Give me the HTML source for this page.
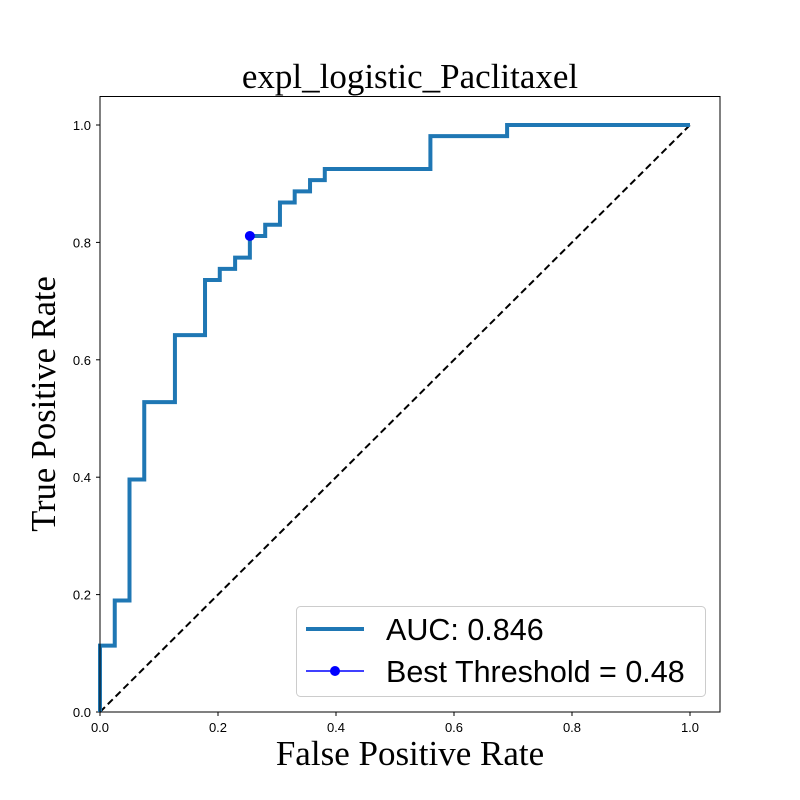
<!DOCTYPE html>
<html><head><meta charset="utf-8"><style>body{margin:0;background:#fff}svg{display:block}</style></head>
<body>
<svg id="chart" width="800" height="800" viewBox="0 0 800 800" xmlns="http://www.w3.org/2000/svg">
<rect width="800" height="800" fill="#fff"/>
<text x="410" y="88" text-anchor="middle" font-family="Liberation Serif, serif" font-size="35">expl_logistic_Paclitaxel</text>
<g id="plot"></g>
<rect x="100" y="96.5" width="620" height="615.5" fill="none" stroke="#000" stroke-width="1"/>
<text x="410" y="765" text-anchor="middle" font-family="Liberation Serif, serif" font-size="35">False Positive Rate</text>
<text transform="translate(55,404) rotate(-90)" text-anchor="middle" font-family="Liberation Serif, serif" font-size="34.5">True Positive Rate</text>
<g>
<rect x="296.5" y="606.5" width="409" height="90" rx="4" fill="#fff" stroke="#ccc"/>
<line x1="306" y1="629" x2="364" y2="629" stroke="#1f77b4" stroke-width="4"/>
<text x="386" y="640" font-family="Liberation Sans, sans-serif" font-size="30.5">AUC: 0.846</text>
<line x1="306" y1="671" x2="364" y2="671" stroke="#0000ff" stroke-width="1.5"/>
<circle cx="335" cy="671" r="5" fill="#0000ff"/>
<text x="386" y="682" font-family="Liberation Sans, sans-serif" font-size="30.5">Best Threshold = 0.48</text>
</g>
</svg>
<script>
const fpr = [0,0,0.025,0.025,0.05,0.05,0.075,0.075,0.127,0.127,0.178,0.178,0.203,0.203,0.229,0.229,0.254,0.254,0.28,0.28,0.305,0.305,0.33,0.33,0.356,0.356,0.381,0.381,0.56,0.56,0.69,0.69,1.0];
const tpr = [0,0.113,0.113,0.19,0.19,0.396,0.396,0.528,0.528,0.642,0.642,0.736,0.736,0.755,0.755,0.774,0.774,0.811,0.811,0.83,0.83,0.868,0.868,0.887,0.887,0.906,0.906,0.925,0.925,0.981,0.981,1.0,1.0];
const bestPoint = [0.254, 0.811];
const ticks = [0,0.2,0.4,0.6,0.8,1.0];
const tickLabels = ["0.0","0.2","0.4","0.6","0.8","1.0"];
const X = v => 100 + v * 590;
const Y = v => 712 - v * 587;
const NS = "http://www.w3.org/2000/svg";
const g = document.getElementById('plot');
function mk(t, a){const e=document.createElementNS(NS,t);for(const k in a)e.setAttribute(k,a[k]);g.appendChild(e);return e;}
ticks.forEach((t,i)=>{
  const xt=mk('line',{x1:X(t),x2:X(t),y1:712,y2:716,stroke:'#000'});
  
  
  const xl=mk('text',{x:X(t),y:732,'text-anchor':'middle','font-family':'Liberation Sans, sans-serif','font-size':'13'});
  xl.textContent=tickLabels[i];
  
  
  const yt=mk('line',{x1:96,x2:100,y1:Y(t),y2:Y(t),stroke:'#000'});
  
  
  const yl=mk('text',{x:91,y:Y(t)+5,'text-anchor':'end','font-family':'Liberation Sans, sans-serif','font-size':'13'});
  yl.textContent=tickLabels[i];
  
  
});
const diag=mk('line',{x1:X(0),y1:Y(0),x2:X(1),y2:Y(1),stroke:'#000','stroke-width':2,'stroke-dasharray':'7,4'});


const roc=mk('polyline',{points:fpr.map((f,i)=>X(f)+','+Y(tpr[i])).join(' '),fill:'none',stroke:'#1f77b4','stroke-width':4});


const bp=mk('circle',{cx:X(bestPoint[0]),cy:Y(bestPoint[1]),r:5,fill:'#0000ff'});


</script>
</body></html>
